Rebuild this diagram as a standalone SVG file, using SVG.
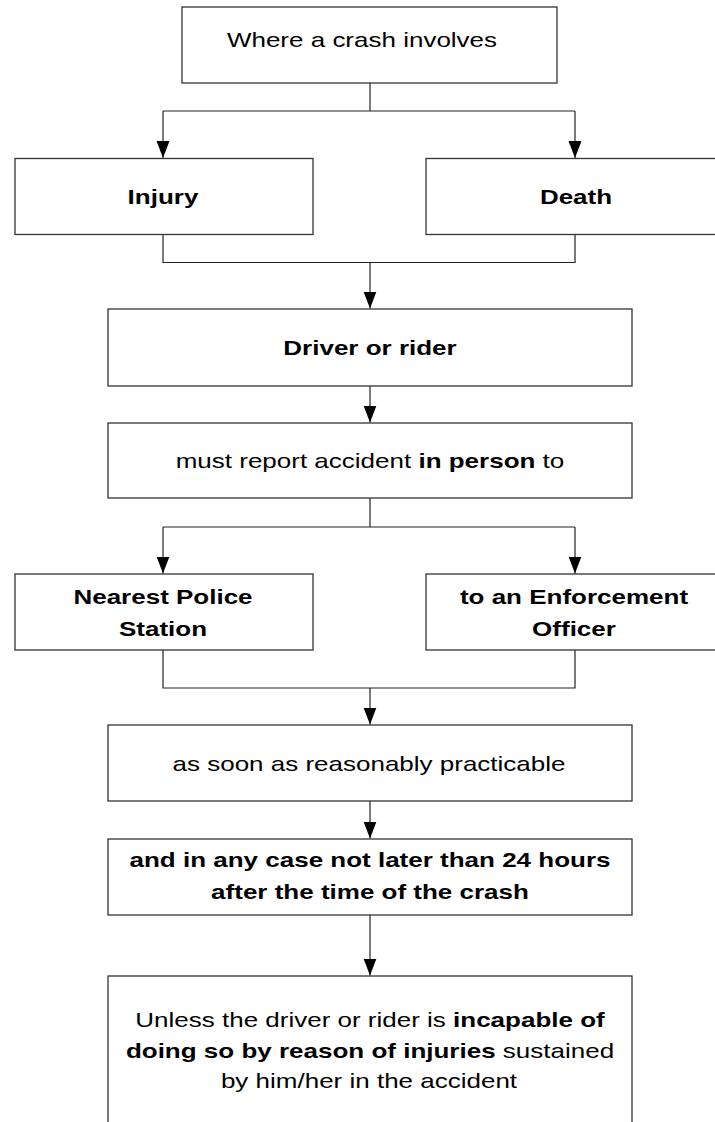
<svg xmlns="http://www.w3.org/2000/svg" width="715" height="1122" viewBox="0 0 715 1122">
  <style>
    .box { fill: #ffffff; stroke: #333333; stroke-width: 1.3; }
    .wire { fill: none; stroke: #222222; stroke-width: 1.2; }
    .t { font-family: "Liberation Sans", Arial, sans-serif; font-size: 20px; fill: #000000; text-anchor: middle; }
    .b { font-weight: bold; }
  </style>
  <defs>
    <marker id="head" markerUnits="userSpaceOnUse" markerWidth="18" markerHeight="14" refX="17" refY="7" orient="auto">
      <path d="M0,0.5 L17,7 L0,13.5 z" fill="#000000"/>
    </marker>
  </defs>

  <rect width="715" height="1122" fill="#ffffff"/>

  <!-- connectors -->
  <g id="connectors">
    <path class="wire" d="M370,83 V111 M163,111 H575" />
    <path class="wire" d="M163,111 V158" marker-end="url(#head)"/>
    <path class="wire" d="M575,111 V158" marker-end="url(#head)"/>
    <path class="wire" d="M163,234.5 V262.5 H575 V234.5" />
    <path class="wire" d="M370,262.5 V308.5" marker-end="url(#head)"/>
    <path class="wire" d="M370,386 V422.5" marker-end="url(#head)"/>
    <path class="wire" d="M370,498 V527 M163,527 H575" />
    <path class="wire" d="M163,527 V573.5" marker-end="url(#head)"/>
    <path class="wire" d="M575,527 V573.5" marker-end="url(#head)"/>
    <path class="wire" d="M163,650 V688 H575 V650" />
    <path class="wire" d="M370,688 V724.5" marker-end="url(#head)"/>
    <path class="wire" d="M370,801 V838.5" marker-end="url(#head)"/>
    <path class="wire" d="M370,915 V975.5" marker-end="url(#head)"/>
  </g>

  <!-- nodes -->
  <g id="crash">
    <rect class="box" x="182" y="7" width="375" height="76"/>
    <text class="t" transform="translate(362,47) scale(1.3,1)">Where a crash involves</text>
  </g>

  <g id="injury">
    <rect class="box" x="15" y="158.5" width="298" height="76"/>
    <text class="t b" transform="translate(163,203.5) scale(1.3,1)">Injury</text>
  </g>

  <g id="death">
    <rect class="box" x="426" y="158.5" width="300" height="76"/>
    <text class="t b" transform="translate(576,203.5) scale(1.3,1)">Death</text>
  </g>

  <g id="driver">
    <rect class="box" x="108" y="309" width="524" height="77"/>
    <text class="t b" transform="translate(370,354.5) scale(1.3,1)">Driver or rider</text>
  </g>

  <g id="report">
    <rect class="box" x="108" y="423" width="524" height="75"/>
    <text class="t" transform="translate(370,467.5) scale(1.3,1)">must report accident <tspan class="b">in person</tspan> to</text>
  </g>

  <g id="police">
    <rect class="box" x="15" y="574" width="298" height="76"/>
    <text class="t b" transform="translate(163,603.5) scale(1.3,1)">Nearest Police</text>
    <text class="t b" transform="translate(163,635.5) scale(1.3,1)">Station</text>
  </g>

  <g id="officer">
    <rect class="box" x="426" y="574" width="300" height="76"/>
    <text class="t b" transform="translate(574,603.5) scale(1.3,1)">to an Enforcement</text>
    <text class="t b" transform="translate(574,635.5) scale(1.3,1)">Officer</text>
  </g>

  <g id="asap">
    <rect class="box" x="108" y="725" width="524" height="76"/>
    <text class="t" transform="translate(369,770.5) scale(1.3,1)">as soon as reasonably practicable</text>
  </g>

  <g id="deadline">
    <rect class="box" x="108" y="839" width="524" height="76"/>
    <text class="t b" transform="translate(370,867) scale(1.3,1)">and in any case not later than 24 hours</text>
    <text class="t b" transform="translate(370,899) scale(1.3,1)">after the time of the crash</text>
  </g>

  <g id="exception">
    <rect class="box" x="108" y="976" width="524" height="170"/>
    <text class="t" transform="translate(370,1027) scale(1.3,1)">Unless the driver or rider is <tspan class="b">incapable of</tspan></text>
    <text class="t" transform="translate(370,1057.5) scale(1.3,1)"><tspan class="b">doing so by reason of injuries</tspan> sustained</text>
    <text class="t" transform="translate(369,1088) scale(1.3,1)">by him/her in the accident</text>
  </g>
</svg>
